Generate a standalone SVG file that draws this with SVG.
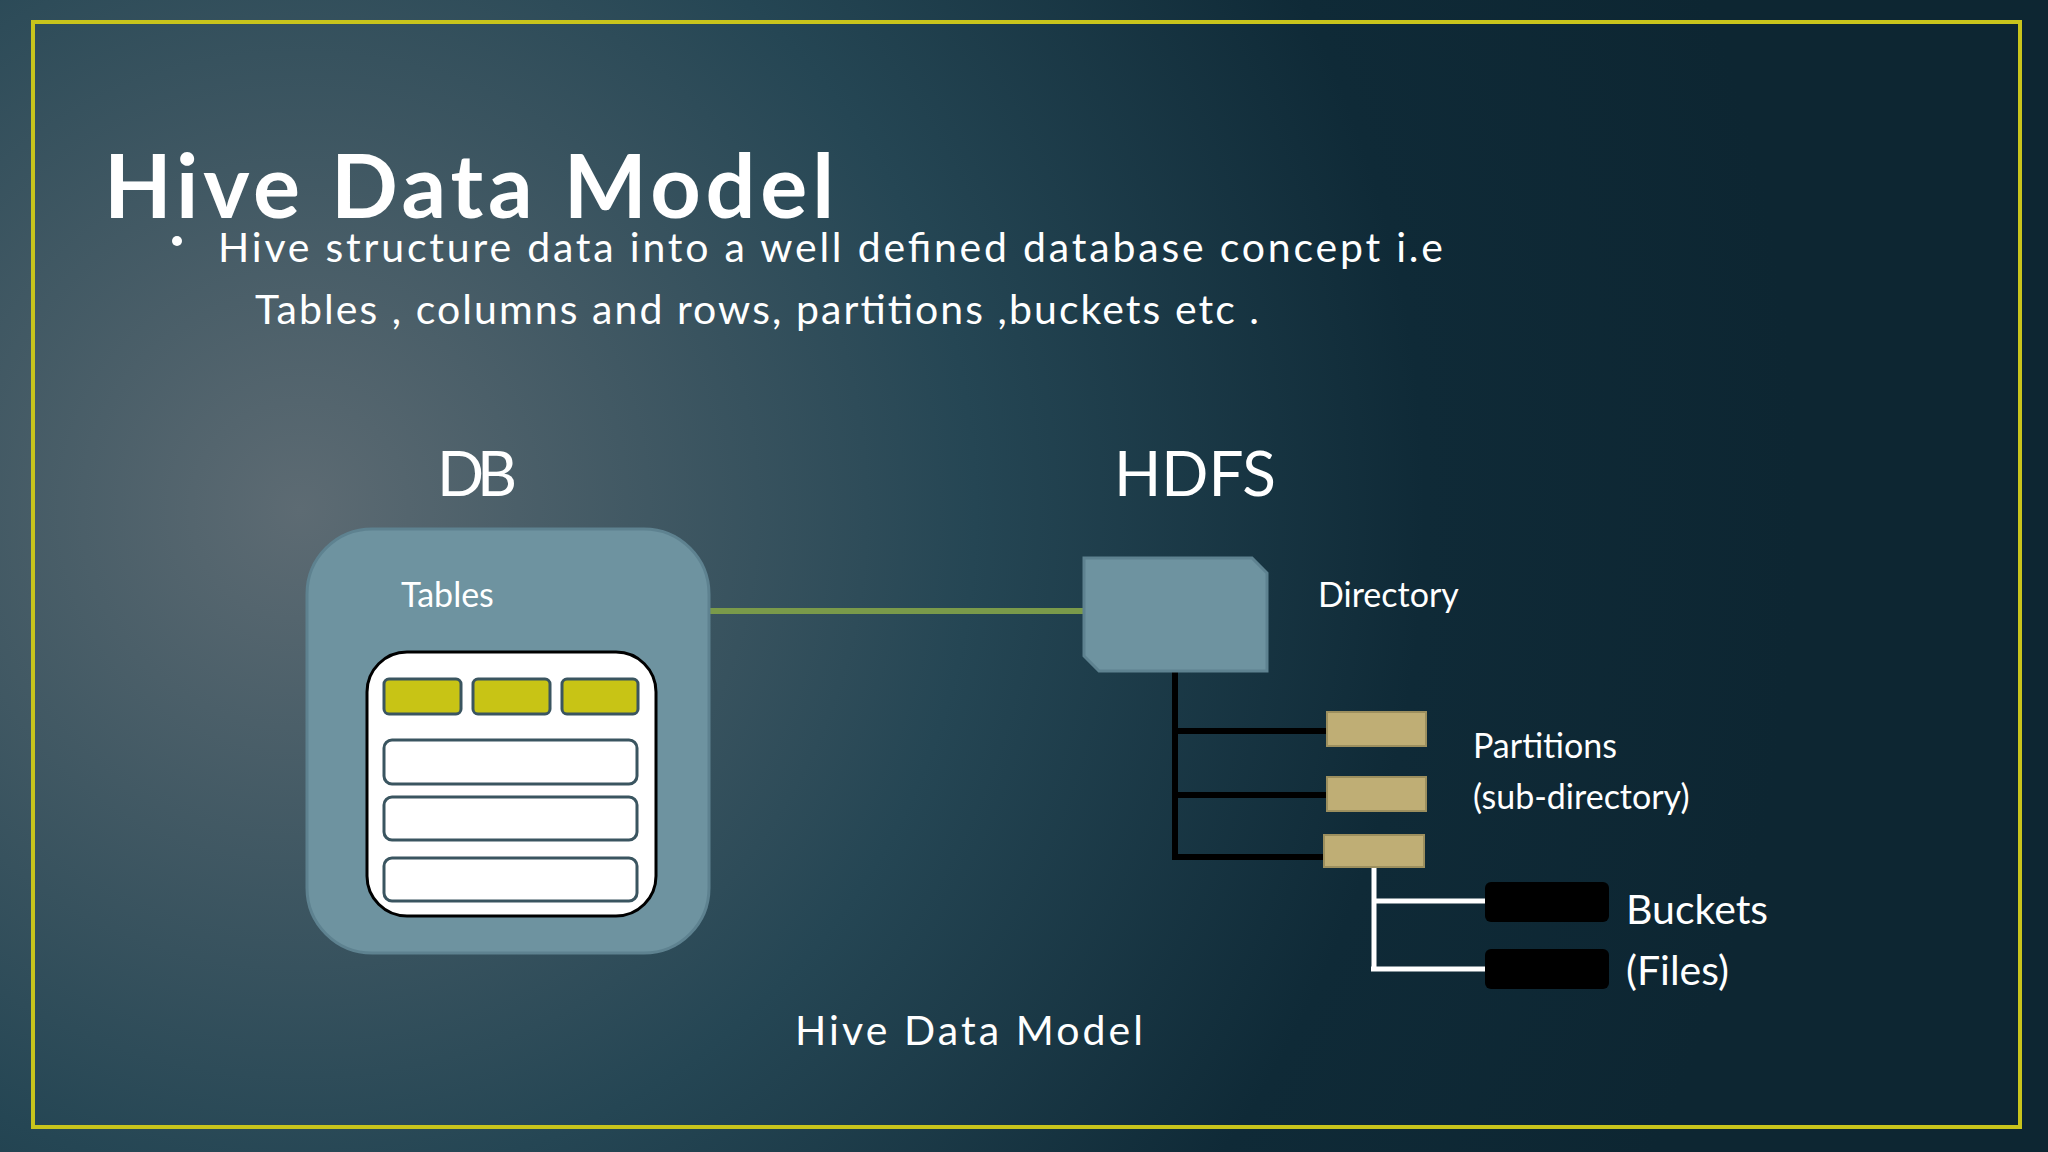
<svg xmlns="http://www.w3.org/2000/svg" width="2048" height="1152" viewBox="0 0 2048 1152">
<defs>
<radialGradient id="bg" cx="300" cy="510" r="1500" gradientUnits="userSpaceOnUse">
<stop offset="0" stop-color="#5d6b73"/><stop offset="0.45" stop-color="#254654"/><stop offset="0.75" stop-color="#0f2a37"/><stop offset="1" stop-color="#0d2632"/>
</radialGradient>
<style>
.t{font-family:"Lato","Liberation Sans",sans-serif;fill:#fff}
.cell{fill:#c8c415;stroke:#3a5560;stroke-width:3}
.row{fill:#fff;stroke:#3a5560;stroke-width:3}
.part{fill:#bfae75;stroke:#9c8f5e;stroke-width:2}
.bk{fill:#000}
</style>
</defs>
<rect width="2048" height="1152" fill="url(#bg)"/>
<rect x="33" y="22" width="1987" height="1105" fill="none" stroke="#c8c41c" stroke-width="4"/>
<text class="t" x="104" y="218" font-size="88" font-weight="bold" textLength="730">Hive Data Model</text>
<circle cx="177" cy="241" r="5" fill="#fff"/>
<text class="t" x="218" y="262" font-size="41" textLength="1225">Hive structure data into a well defined database concept i.e</text>
<text class="t" x="255" y="324" font-size="41" textLength="1004">Tables , columns and rows, partitions ,buckets etc .</text>
<text class="t" x="437" y="496" font-size="62" textLength="80">DB</text>
<text class="t" x="1114" y="496" font-size="62" textLength="162">HDFS</text>
<g id="connectors">
<line x1="709" y1="611" x2="1084" y2="611" stroke="#7a9a4a" stroke-width="6"/>
<path d="M1175 671 V858 M1172 731 H1327 M1172 795 H1327 M1172 857 H1324" stroke="#000" stroke-width="6" fill="none"/>
<path d="M1374 867 V969 M1374 901 H1485 M1371 969 H1485" stroke="#fff" stroke-width="5" fill="none"/>
</g>
<g id="db">
<rect x="307" y="529" width="402" height="424" rx="65" fill="#6e93a0" stroke="#5e8290" stroke-width="3"/>
<text class="t" x="401" y="607" font-size="34">Tables</text>
<rect x="367" y="652" width="289" height="264" rx="40" fill="#fff" stroke="#000" stroke-width="3"/>
<rect class="cell" x="384" y="679" width="77" height="35" rx="5"/>
<rect class="cell" x="473" y="679" width="77" height="35" rx="5"/>
<rect class="cell" x="562" y="679" width="76" height="35" rx="5"/>
<rect class="row" x="384" y="740" width="253" height="44" rx="8"/>
<rect class="row" x="384" y="797" width="253" height="43" rx="8"/>
<rect class="row" x="384" y="858" width="253" height="43" rx="8"/>
</g>
<g id="directory">
<path d="M1084 558 H1252 L1267 573 V671 H1099 L1084 656 Z" fill="#6e93a0" stroke="#5e8290" stroke-width="3"/>
<text class="t" x="1318" y="607" font-size="34">Directory</text>
</g>
<g id="partitions">
<rect class="part" x="1327" y="712" width="99" height="34"/>
<rect class="part" x="1327" y="777" width="99" height="34"/>
<rect class="part" x="1324" y="835" width="100" height="32"/>
<text class="t" x="1473" y="758" font-size="34">Partitions</text>
<text class="t" x="1473" y="809" font-size="34">(sub-directory)</text>
</g>
<g id="buckets">
<rect class="bk" x="1485" y="882" width="124" height="40" rx="6"/>
<rect class="bk" x="1485" y="949" width="124" height="40" rx="6"/>
<text class="t" x="1626" y="924" font-size="41">Buckets</text>
<text class="t" x="1626" y="985" font-size="41">(Files)</text>
</g>
<text class="t" x="795" y="1045" font-size="41" textLength="348">Hive Data Model</text>
</svg>
